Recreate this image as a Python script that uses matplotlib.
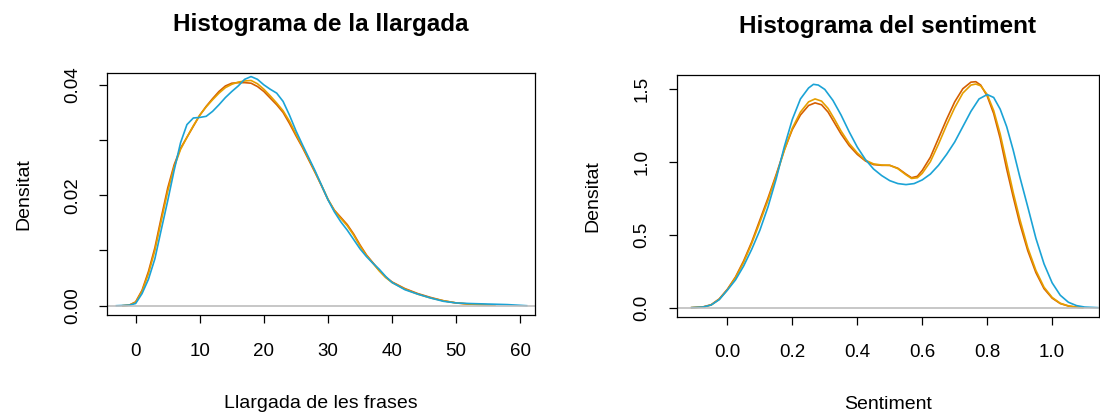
import matplotlib
matplotlib.use("Agg")
import matplotlib.pyplot as plt

plt.rcParams['font.family'] = ['Liberation Sans', 'DejaVu Sans']

# --- sentence length densities ---
len_x = [-2, -1, 0, 1, 2, 3, 4, 5, 6, 7, 8, 9, 10, 11, 12, 13, 14, 15, 16, 17, 18, 19, 20,
         21, 22, 23, 24, 25, 26, 27, 28, 29, 30, 31, 32, 33, 34, 35, 36, 37, 38, 39, 40,
         42, 44, 46, 48, 50, 52, 54, 56]
len_y_orange = [0, 0.0001,
                0.0007, 0.0028, 0.0062, 0.0105, 0.0160, 0.0213, 0.0255, 0.0285, 0.0305, 0.0325,
                0.0345, 0.0361, 0.0375, 0.0388, 0.0398, 0.0403, 0.0404, 0.0404, 0.0403, 0.0397,
                0.0388, 0.0376, 0.0364, 0.0350, 0.0330, 0.0308, 0.0287, 0.0264, 0.0241, 0.0217,
                0.0192, 0.0173, 0.0160, 0.0147, 0.0130, 0.0110, 0.0092, 0.0078, 0.0064, 0.0052,
                0.0043,
                0.0031, 0.0022, 0.0015, 0.0009, 0.0005, 0.0003, 0.0002, 0.0001]
len_y_gold = [0, 0.0001,
              0.0006, 0.0026, 0.0058, 0.0100, 0.0154, 0.0207, 0.0251, 0.0283, 0.0305, 0.0326,
              0.0345, 0.0360, 0.0373, 0.0385, 0.0395, 0.0401, 0.0405, 0.0407, 0.0408, 0.0402,
              0.0392, 0.0380, 0.0367, 0.0353, 0.0334, 0.0311, 0.0289, 0.0266, 0.0242, 0.0218,
              0.0193, 0.0172, 0.0158, 0.0145, 0.0128, 0.0108, 0.0091, 0.0077, 0.0063, 0.0051,
              0.0042,
              0.0030, 0.0021, 0.0014, 0.0009, 0.0005, 0.0003, 0.0002, 0.0001]
len_x_blue = [-3, -1, 0, 1, 2, 3, 4, 5, 6, 7, 8, 9, 10, 11, 12, 13, 14, 15, 16, 17, 18, 19, 20,
              21, 22, 23, 24, 25, 26, 27, 28, 29, 30, 31, 32, 33, 34, 35, 36, 37, 38, 39, 40,
              42, 44, 46, 48, 50, 52, 55, 58, 61]
len_y_blue = [0, 0.0001,
              0.0004, 0.0022, 0.0048, 0.0085, 0.0138, 0.0190, 0.0245, 0.0295, 0.0328, 0.0340,
              0.0341, 0.0343, 0.0352, 0.0364, 0.0377, 0.0388, 0.0398, 0.0410, 0.0415, 0.0410,
              0.0400, 0.0392, 0.0385, 0.0370, 0.0345, 0.0317, 0.0292, 0.0268, 0.0244, 0.0218,
              0.0192, 0.0170, 0.0152, 0.0137, 0.0120, 0.0103, 0.0089, 0.0077, 0.0066, 0.0053,
              0.0042,
              0.0029, 0.0021, 0.0014, 0.0008, 0.0005, 0.0004, 0.0003, 0.0002, 0]

# --- sentiment densities ---
sent_x = [-0.11, -0.075, -0.05, -0.025, 0, 0.025, 0.05, 0.075, 0.10, 0.125, 0.15, 0.175,
          0.20, 0.225, 0.25, 0.27, 0.29, 0.31, 0.33, 0.35, 0.375, 0.40, 0.425, 0.45, 0.475,
          0.50, 0.525, 0.55, 0.567, 0.585, 0.60, 0.625, 0.65, 0.675, 0.70, 0.725, 0.75, 0.765,
          0.78, 0.80, 0.82, 0.84, 0.86, 0.88, 0.90, 0.925, 0.95, 0.975, 1.0, 1.025, 1.05,
          1.075, 1.094]
sent_y_orange = [0, 0.005, 0.02, 0.06, 0.126, 0.21, 0.32, 0.45, 0.60, 0.75, 0.91, 1.08,
                 1.22, 1.32, 1.385, 1.403, 1.39, 1.34, 1.265, 1.19, 1.11, 1.05, 1.005, 0.98, 0.975,
                 0.975, 0.955, 0.915, 0.89, 0.90, 0.94, 1.03, 1.16, 1.29, 1.41, 1.50, 1.545, 1.548,
                 1.525, 1.45, 1.33, 1.16, 0.95, 0.76, 0.58, 0.39, 0.24, 0.13, 0.065, 0.028, 0.011,
                 0.003, 0]
sent_y_gold = [0, 0.004, 0.018, 0.057, 0.122, 0.205, 0.31, 0.44, 0.585, 0.735, 0.90, 1.075,
               1.23, 1.34, 1.41, 1.43, 1.415, 1.365, 1.29, 1.21, 1.125, 1.06, 1.01, 0.985, 0.977,
               0.975, 0.952, 0.91, 0.885, 0.89, 0.92, 1.0, 1.12, 1.25, 1.37, 1.47, 1.525, 1.532,
               1.52, 1.46, 1.35, 1.19, 0.99, 0.79, 0.61, 0.41, 0.255, 0.14, 0.07, 0.03, 0.012,
               0.003, 0]
sent_x_blue = [-0.11, -0.075, -0.05, -0.025, 0, 0.025, 0.05, 0.075, 0.10, 0.125, 0.15, 0.175,
               0.20, 0.225, 0.25, 0.265, 0.28, 0.30, 0.325, 0.35, 0.375, 0.40, 0.425, 0.45,
               0.475, 0.50, 0.525, 0.55, 0.575, 0.60, 0.625, 0.65, 0.675, 0.70, 0.725, 0.75,
               0.775, 0.80, 0.82, 0.84, 0.86, 0.88, 0.90, 0.925, 0.95, 0.975, 1.0, 1.025, 1.05,
               1.075, 1.10, 1.14]
sent_y_blue = [0, 0.004, 0.018, 0.055, 0.12, 0.19, 0.285, 0.40, 0.53, 0.69, 0.88, 1.10,
               1.29, 1.43, 1.505, 1.53, 1.525, 1.495, 1.42, 1.32, 1.205, 1.10, 1.015, 0.95,
               0.905, 0.87, 0.85, 0.843, 0.85, 0.875, 0.915, 0.975, 1.05, 1.135, 1.24, 1.345,
               1.43, 1.46, 1.44, 1.36, 1.24, 1.08, 0.9, 0.69, 0.475, 0.3, 0.17, 0.085, 0.037,
               0.014, 0.004, 0]

ORANGE = '#D55E00'
GOLD = '#E69F00'
BLUE = '#1BA3D6'


def style_axes(ax):
    for s in ax.spines.values():
        s.set_linewidth(0.9)
        s.set_color('black')
    ax.tick_params(direction='out', length=6, width=0.9, labelsize=13.5)
    ax.tick_params(axis='x', pad=14)
    ax.tick_params(axis='y', pad=13, labelrotation=90)
    for lab in ax.get_yticklabels():
        lab.set_va('center')


fig = plt.figure(figsize=(11, 4.15), dpi=100)

ax1 = fig.add_axes([0.0975, 0.2402, 0.3889, 0.5846])
ax1.plot(len_x, len_y_orange, color=ORANGE, lw=1.2)
ax1.plot(len_x, len_y_gold, color=GOLD, lw=1.2)
ax1.plot(len_x_blue, len_y_blue, color=BLUE, lw=1.2)
ax1.axhline(0, color='#BEBEBE', lw=1.2)
ax1.set_xlim(-4.43, 62.3)
ax1.set_ylim(-0.00174, 0.0422)
ax1.set_xticks([0, 10, 20, 30, 40, 50, 60])
ax1.set_yticks([0, 0.01, 0.02, 0.03, 0.04])
ax1.set_yticklabels(['0.00', '', '0.02', '', '0.04'])
style_axes(ax1)
ax1.set_title('Histograma de la llargada', fontsize=17.5, fontweight='bold', pad=30)
ax1.set_xlabel('Llargada de les frases', fontsize=14, labelpad=25)
ax1.set_ylabel('Densitat', fontsize=14, labelpad=23)

ax2 = fig.add_axes([0.6152, 0.2369, 0.3838, 0.5831])
ax2.plot(sent_x, sent_y_orange, color=ORANGE, lw=1.2)
ax2.plot(sent_x, sent_y_gold, color=GOLD, lw=1.2)
ax2.plot(sent_x_blue, sent_y_blue, color=BLUE, lw=1.2)
ax2.axhline(0, color='#BEBEBE', lw=1.2)
ax2.set_xlim(-0.156, 1.144)
ax2.set_ylim(-0.062, 1.596)
ax2.set_xticks([0.0, 0.2, 0.4, 0.6, 0.8, 1.0])
ax2.set_yticks([0.0, 0.5, 1.0, 1.5])
style_axes(ax2)
ax2.set_title('Histograma del sentiment', fontsize=17.5, fontweight='bold', pad=30)
ax2.set_xlabel('Sentiment', fontsize=14, labelpad=25)
ax2.set_ylabel('Densitat', fontsize=14, labelpad=23)

fig.savefig('out.png', dpi=100)
